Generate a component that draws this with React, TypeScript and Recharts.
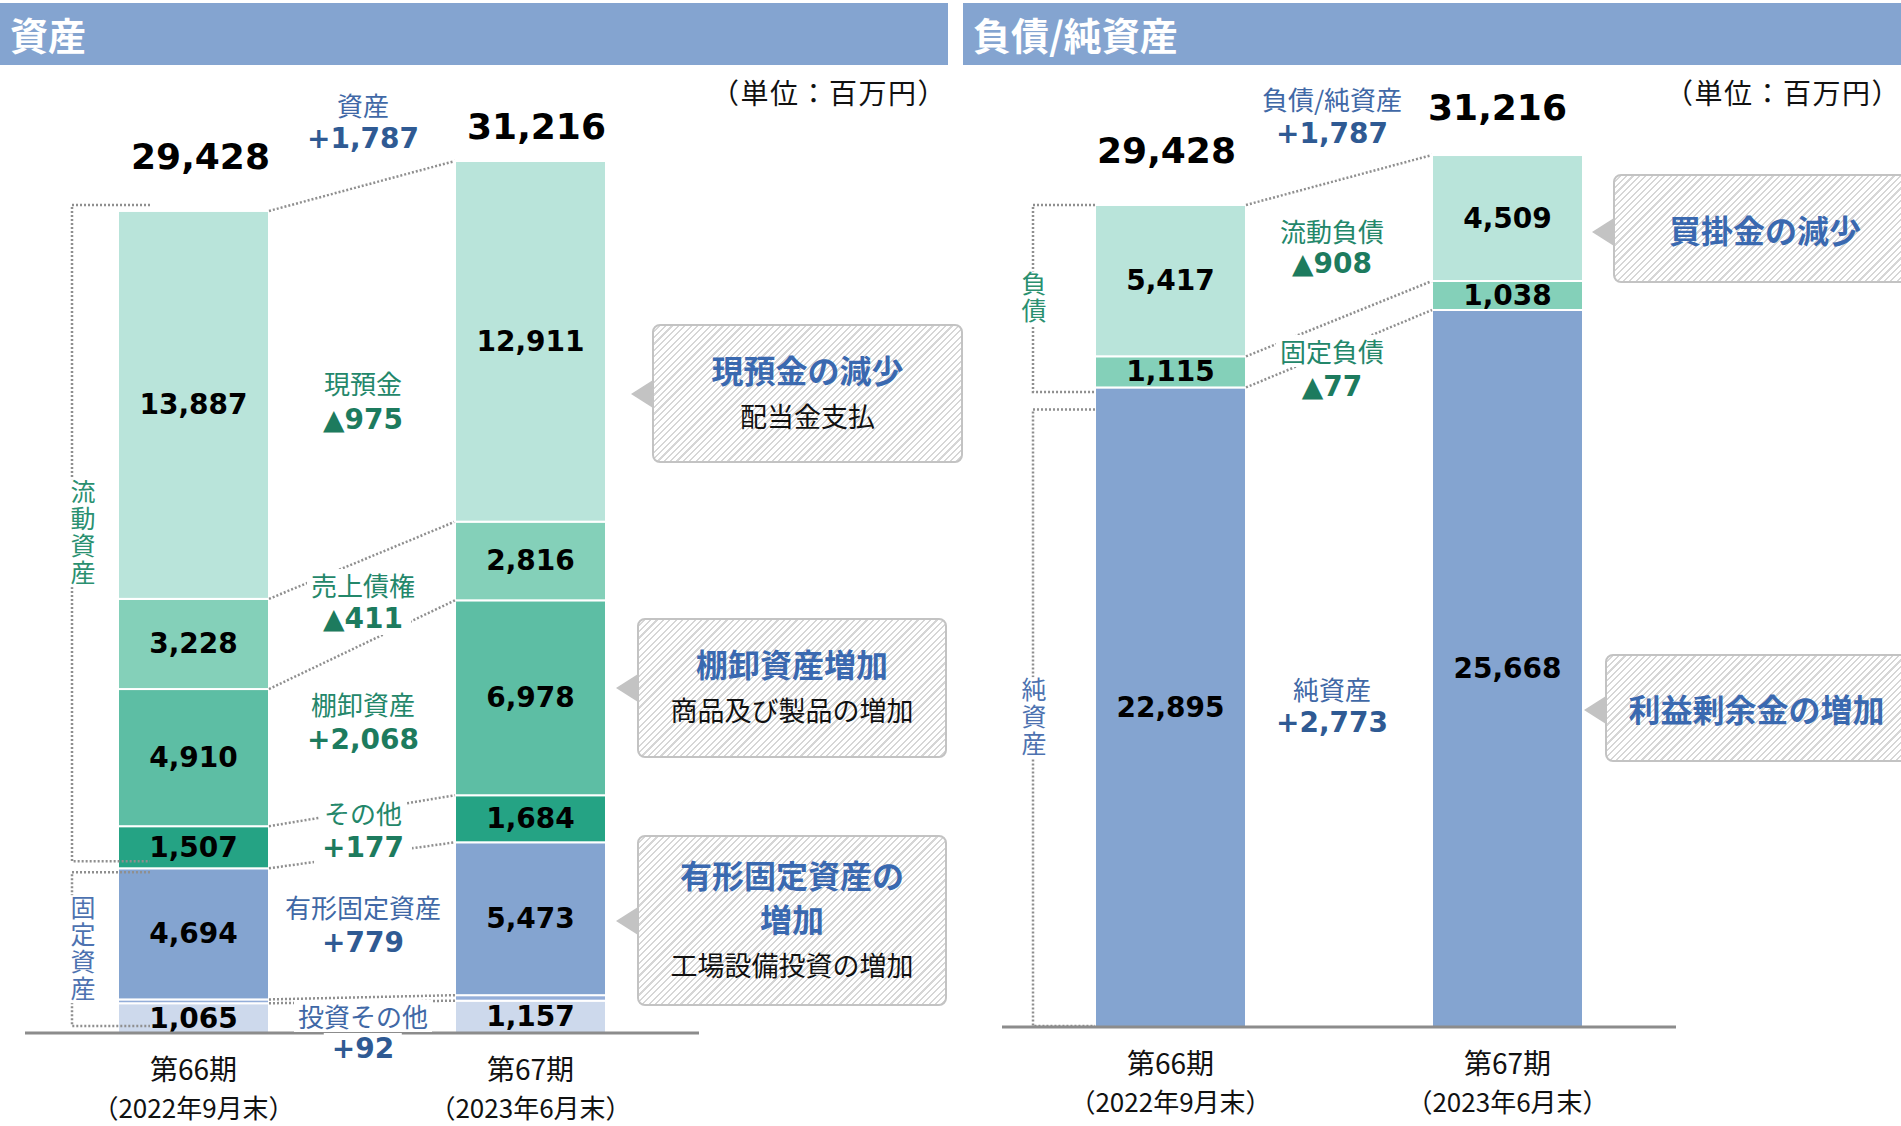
// 資産 / 負債・純資産 の比較チャート（第66期 → 第67期）
import React from 'react';
import { BarChart, Bar, XAxis, YAxis } from 'recharts';

// ---- data -----------------------------------------------------------------
const CATEGORIES = ['第66期', '第67期'];
const PERIODS = ['（2022年9月末）', '（2023年6月末）'];

// 資産 (bottom → top)
const INVESTMENTS = [1065, 1157];
const INTANGIBLE = [137, 197];
const PPE = [4694, 5473];
const OTHER_CURRENT = [1507, 1684];
const INVENTORY = [4910, 6978];
const RECEIVABLES = [3228, 2816];
const CASH = [13887, 12911];
const ASSET_TOTALS = [29428, 31216];

// 負債/純資産 (bottom → top)
const NET_ASSETS = [22895, 25668];
const FIXED_LIAB = [1115, 1038];
const CURRENT_LIAB = [5417, 4509];
const LIAB_TOTALS = [29428, 31216];

const ASSET_DELTA_NAMES = ['資産', '現預金', '売上債権', '棚卸資産', 'その他', '有形固定資産', '投資その他'];
const ASSET_DELTA_VALUES = ['+1,787', '▲975', '▲411', '+2,068', '+177', '+779', '+92'];
const LIAB_DELTA_NAMES = ['負債/純資産', '流動負債', '固定負債', '純資産'];
const LIAB_DELTA_VALUES = ['+1,787', '▲908', '▲77', '+2,773'];

// ---- layout / styles --------------------------------------------------------
const NUM_FONT = '"DejaVu Sans", "Noto Sans CJK JP", sans-serif';
const JP_FONT = '"Noto Sans CJK JP", "Noto Sans", sans-serif';
const GREEN_NAME = '#23876a';
const GREEN_VAL = '#1d7b5e';
const BLUE_NAME = '#4068a6';
const BLUE_VAL = '#2f5a93';
const DOT = '#8f8f8f';

const BAR_W = 151;
const PLOT_W = 674;
const CAT_STEP = PLOT_W / 2;
const Y_MAX = 35000;
const PLOT_H = 977.7;

const fmt = (v: number) => v.toLocaleString('en-US');

type Series = { key: string; values: number[]; color: string; label: boolean };
type Bracket = { lo: number; hi: number; padTop: number; padBottom: number; text: string; color: string };
type Panel = {
  series: Series[];
  totals: number[];
  totalOffsets: { dx: number; dy: number }[];
  bracketDx: number;
  bracketHx: number;
  textDx: number;
  brackets: Bracket[];
};

const ASSET_PANEL: Panel = {
  series: [
    { key: 'investments', values: INVESTMENTS, color: '#cdd9ec', label: true },
    { key: 'intangible', values: INTANGIBLE, color: '#94aed9', label: false },
    { key: 'ppe', values: PPE, color: '#84a4d0', label: true },
    { key: 'other', values: OTHER_CURRENT, color: '#25a384', label: true },
    { key: 'inventory', values: INVENTORY, color: '#5dbea4', label: true },
    { key: 'receivables', values: RECEIVABLES, color: '#84d0b9', label: true },
    { key: 'cash', values: CASH, color: '#b9e4da', label: true },
  ],
  totals: ASSET_TOTALS,
  totalOffsets: [{ dx: 7, dy: 54 }, { dx: 6, dy: 35 }],
  bracketDx: -46,
  bracketHx: 32,
  textDx: 11,
  brackets: [
    { lo: 2, hi: 6, padTop: -6, padBottom: -7, text: '流動資産', color: '#2a9070' },
    { lo: -1, hi: 2, padTop: 4, padBottom: -7, text: '固定資産', color: '#4d72b0' },
  ],
};

const LIAB_PANEL: Panel = {
  series: [
    { key: 'net', values: NET_ASSETS, color: '#84a4d0', label: true },
    { key: 'fixed', values: FIXED_LIAB, color: '#84d0b9', label: true },
    { key: 'current', values: CURRENT_LIAB, color: '#b9e4da', label: true },
  ],
  totals: LIAB_TOTALS,
  totalOffsets: [{ dx: -4, dy: 54 }, { dx: -10, dy: 48 }],
  bracketDx: -62,
  bracketHx: 0,
  textDx: 1,
  brackets: [
    { lo: 0, hi: 2, padTop: 0, padBottom: 4.5, text: '負債', color: '#2a9070' },
    { lo: -1, hi: 0, padTop: 22, padBottom: -1, text: '純資産', color: '#4d72b0' },
  ],
};

const cumulative = (series: Series[], i: number) => {
  let acc = 0;
  return series.map((s) => (acc += s.values[i]));
};

const buildData = (series: Series[]) =>
  CATEGORIES.map((name, i) => {
    const row: Record<string, any> = { name };
    series.forEach((s) => (row[s.key] = s.values[i]));
    return row;
  });

// connectors + brackets, drawn from the geometry of the first bar's top segment
const annotations = (panel: Panel, x: number, y: number, width: number, height: number) => {
  const top = panel.series[panel.series.length - 1];
  const ppu = height / top.values[0];
  const cum0 = cumulative(panel.series, 0);
  const cum1 = cumulative(panel.series, 1);
  const base = y + cum0[cum0.length - 1] * ppu;
  const yOf = (v: number) => base - v * ppu;
  const els: React.ReactNode[] = [];

  cum0.forEach((c, k) => {
    els.push(
      <line key={'c' + k} x1={x + width} y1={yOf(c)} x2={x + CAT_STEP} y2={yOf(cum1[k])}
        stroke={DOT} strokeWidth={2.5} strokeDasharray="2 2" />
    );
  });

  const vx = x + panel.bracketDx;
  const hx = x + panel.bracketHx;
  panel.brackets.forEach((b, bi) => {
    const t = yOf(cum0[b.hi]) + b.padTop;
    const bt = (b.lo < 0 ? base : yOf(cum0[b.lo])) + b.padBottom;
    els.push(
      <path key={'b' + bi} d={`M${hx},${t} H${vx} V${bt} H${hx}`} fill="none"
        stroke={DOT} strokeWidth={2.5} strokeDasharray="2 2" />
    );
    const n = b.text.length;
    const step = 27;
    const mid = (t + bt) / 2;
    const tx = vx + panel.textDx;
    els.push(
      <rect key={'bw' + bi} x={tx - 14} y={mid - (n * step) / 2} width={28} height={n * step} fill="#fff" />
    );
    els.push(
      <text key={'bt' + bi} x={tx} y={mid} textAnchor="middle" dominantBaseline="central"
        style={{ writingMode: 'vertical-rl', letterSpacing: 2 }}
        fontFamily={JP_FONT} fontSize={25} fill={b.color}>{b.text}</text>
    );
  });
  return els;
};

const makeShape = (panel: Panel, si: number) => (props: any) => {
  const { x, y, width, height, index } = props;
  const s = panel.series[si];
  const isTop = si === panel.series.length - 1;
  const off = panel.totalOffsets[index];
  return (
    <g>
      <rect x={x} y={y} width={width} height={height} fill={s.color} stroke="#fff" strokeWidth={2} />
      {s.label && (
        <text x={x + width / 2} y={y + height / 2} textAnchor="middle" dominantBaseline="central"
          fontFamily={NUM_FONT} fontWeight="bold" fontSize={28} fill="#000">{fmt(s.values[index])}</text>
      )}
      {isTop && (
        <text x={x + width / 2 + off.dx} y={y - off.dy} textAnchor="middle" dominantBaseline="central"
          fontFamily={NUM_FONT} fontWeight="bold" fontSize={36} fill="#000">{fmt(panel.totals[index])}</text>
      )}
      {isTop && index === 0 && annotations(panel, x, y, width, height)}
    </g>
  );
};

const CategoryTick = (props: any) => {
  const { x, y, payload, index } = props;
  return (
    <g>
      <text x={x} y={y + 35} textAnchor="middle" dominantBaseline="central" fontFamily={JP_FONT} fontSize={28} fill="#111">
        {payload.value}
      </text>
      <text x={x} y={y + 73} textAnchor="middle" dominantBaseline="central" fontFamily={JP_FONT} fontSize={26} fill="#111">
        {PERIODS[index]}
      </text>
    </g>
  );
};

const PanelChart = ({ panel, left, width, baseline, marginLeft }: { panel: Panel; left: number; width: number; baseline: number; marginLeft: number }) => (
  <div style={{ position: 'absolute', left, top: 0 }}>
    <BarChart
      width={width}
      height={1126}
      data={buildData(panel.series)}
      margin={{ top: baseline - PLOT_H, left: marginLeft, right: width - marginLeft - PLOT_W, bottom: 0 }}
      barSize={BAR_W}
    >
      <XAxis dataKey="name" height={1126 - baseline} axisLine={{ stroke: '#8c8c8c', strokeWidth: 3 }}
        tickLine={false} tickSize={0} tickMargin={0} tick={<CategoryTick />} interval={0} />
      <YAxis hide width={0} domain={[0, Y_MAX]} />
      {panel.series.map((s, si) => (
        <Bar key={s.key} dataKey={s.key} stackId="a" fill={s.color} isAnimationActive={false}
          shape={makeShape(panel, si)} />
      ))}
    </BarChart>
  </div>
);

const DeltaLabel = ({ cx, y1, y2, name, value, green }: { cx: number; y1: number; y2: number; name: string; value: string; green: boolean }) => (
  <>
    <div style={{ position: 'absolute', left: cx, top: y1, transform: 'translate(-50%, -50%)', background: '#fff',
      padding: '0 4px', fontFamily: JP_FONT, fontSize: 26, lineHeight: '32px', whiteSpace: 'nowrap',
      color: green ? GREEN_NAME : BLUE_NAME }}>{name}</div>
    <div style={{ position: 'absolute', left: cx, top: y2, transform: 'translate(-50%, -50%)', background: '#fff',
      padding: '0 8px', fontFamily: NUM_FONT, fontWeight: 'bold', fontSize: 28, lineHeight: '32px', whiteSpace: 'nowrap',
      color: green ? GREEN_VAL : BLUE_VAL }}>{value}</div>
  </>
);

const ASSET_DELTA_POS = [
  { y1: 105, y2: 139, green: false },
  { y1: 383, y2: 420, green: true },
  { y1: 585, y2: 619, green: true },
  { y1: 704, y2: 740, green: true },
  { y1: 813, y2: 848, green: true },
  { y1: 907, y2: 943, green: false },
  { y1: 1016, y2: 1049, green: false },
];
const LIAB_DELTA_POS = [
  { y1: 99, y2: 134, green: false },
  { y1: 231, y2: 264, green: true },
  { y1: 351, y2: 387, green: true },
  { y1: 689, y2: 723, green: false },
];

const Callout = ({ left, top, width, height, pointerY, children }: any) => (
  <div style={{ position: 'absolute', left, top, width, height }}>
    <div style={{ position: 'absolute', left: -21, top: pointerY - 14, width: 0, height: 0,
      borderTop: '14px solid transparent', borderBottom: '14px solid transparent', borderRight: '22px solid #c3c3c3' }} />
    <div style={{ position: 'absolute', inset: 0, boxSizing: 'border-box', border: '2.5px solid #c3c3c3', borderRadius: 8,
      background: 'repeating-linear-gradient(135deg, #ffffff 0px, #ffffff 3px, #d6d6d6 3px, #d6d6d6 4.5px)',
      display: 'flex', flexDirection: 'column', alignItems: 'center', justifyContent: 'center', fontFamily: JP_FONT }}>
      {children}
    </div>
  </div>
);

const CTitle = ({ children }: any) => (
  <div style={{ color: '#3a69b0', fontWeight: 'bold', fontSize: 32, lineHeight: '44px', whiteSpace: 'nowrap', textAlign: 'center' }}>{children}</div>
);
const CSub = ({ children }: any) => (
  <div style={{ color: '#111', fontSize: 27, lineHeight: '50px', whiteSpace: 'nowrap' }}>{children}</div>
);

const Header = ({ left, width, title }: { left: number; width: number; title: string }) => (
  <div style={{ position: 'absolute', left, top: 3, width, height: 62, background: '#84a4d0', color: '#fff',
    fontFamily: JP_FONT, fontWeight: 'bold', fontSize: 38, lineHeight: '62px', paddingLeft: 10, boxSizing: 'border-box' }}>
    {title}
  </div>
);

const Unit = ({ right }: { right: number }) => (
  <div style={{ position: 'absolute', right: 1901 - right, top: 92, transform: 'translateY(-50%)', fontFamily: JP_FONT,
    fontSize: 28, letterSpacing: 1.5, color: '#111', whiteSpace: 'nowrap' }}>（単位：百万円）</div>
);

export default function App() {
  return (
    <div style={{ position: 'absolute', left: 0, top: 0, width: 1901, height: 1126, overflow: 'hidden', background: '#fff' }}>
      <Header left={0} width={948} title="資産" />
      <Header left={963} width={938} title="負債/純資産" />
      <Unit right={947} />
      <Unit right={1901} />

      <PanelChart panel={ASSET_PANEL} left={0} width={960} baseline={1033} marginLeft={25} />
      <PanelChart panel={LIAB_PANEL} left={960} width={941} baseline={1027} marginLeft={42} />

      {ASSET_DELTA_NAMES.map((n, i) => (
        <DeltaLabel key={n} cx={363} y1={ASSET_DELTA_POS[i].y1} y2={ASSET_DELTA_POS[i].y2}
          name={n} value={ASSET_DELTA_VALUES[i]} green={ASSET_DELTA_POS[i].green} />
      ))}
      {LIAB_DELTA_NAMES.map((n, i) => (
        <DeltaLabel key={n} cx={1332} y1={LIAB_DELTA_POS[i].y1} y2={LIAB_DELTA_POS[i].y2}
          name={n} value={LIAB_DELTA_VALUES[i]} green={LIAB_DELTA_POS[i].green} />
      ))}

      <Callout left={652} top={324} width={311} height={139} pointerY={70}>
        <CTitle>現預金の減少</CTitle>
        <CSub>配当金支払</CSub>
      </Callout>
      <Callout left={637} top={618} width={310} height={140} pointerY={70}>
        <CTitle>棚卸資産増加</CTitle>
        <CSub>商品及び製品の増加</CSub>
      </Callout>
      <Callout left={637} top={835} width={310} height={171} pointerY={86}>
        <CTitle>有形固定資産の<br />増加</CTitle>
        <CSub>工場設備投資の増加</CSub>
      </Callout>
      <Callout left={1613} top={174} width={300} height={109} pointerY={58}>
        <div style={{ marginLeft: 4 }}><CTitle>買掛金の減少</CTitle></div>
      </Callout>
      <Callout left={1605} top={654} width={310} height={108} pointerY={56}>
        <div style={{ marginLeft: -7 }}><CTitle>利益剰余金の増加</CTitle></div>
      </Callout>
    </div>
  );
}
